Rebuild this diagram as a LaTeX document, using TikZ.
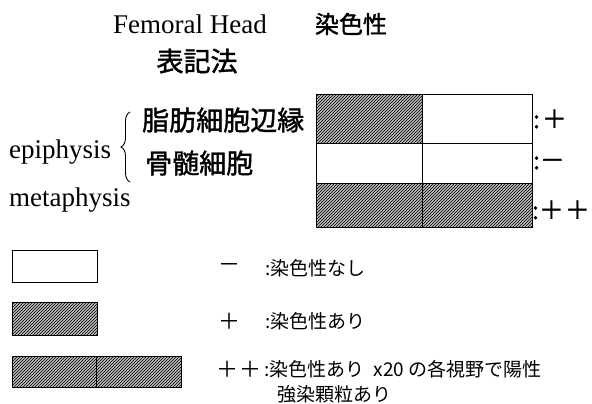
\documentclass[tikz,border=0pt]{standalone}
\usepackage{fontspec}
\usetikzlibrary{patterns,decorations.pathreplacing}
\setmainfont{Liberation Serif}
\newfontfamily\cjk{Noto Sans CJK JP}
\newfontfamily\cjkb[FakeBold=1.5]{Noto Sans CJK JP}
\newcommand\bigsign[1]{{\fontsize{25}{25}\selectfont #1}}
\newcommand\midsign[1]{{\fontsize{22}{22}\selectfont #1}}
\tikzset{
  cell/.style={draw=black,line width=1pt},
  hcell/.style={cell,fill=gray!55,postaction={pattern=north east lines}},
  wcell/.style={cell,fill=white},
  ser/.style={inner sep=0pt,font=\fontsize{27}{30}\selectfont},
  big/.style={inner sep=0pt,font=\cjkb\fontsize{27}{30}\selectfont},
  leg/.style={inner sep=0pt,font=\cjk\fontsize{19}{22}\selectfont},
  sign/.style={inner sep=0pt,font=\cjkb\fontsize{24}{26}\selectfont},
}
\begin{document}
\begin{tikzpicture}[x=1pt,y=-1pt]
\useasboundingbox (0,0) rectangle (592,404);
% headings
\node[ser] (fh) at (190,24) {Femoral Head};
\node[inner sep=0pt,font=\cjkb\fontsize{24}{28}\selectfont] (ss) at (351,24) {染色性};
\node[big] (hk) at (197,61) {表記法};
% left labels
\node[ser,anchor=west] (epi) at (9,152) {epiphysis};
\node[ser,anchor=west] (meta) at (9,200) {metaphysis};
\coordinate (bt) at (130,112);
\coordinate (bb) at (130,182);
\draw[line width=0.9pt,decorate,decoration={brace,amplitude=9pt}] (bb) -- (bt);
\node[big,anchor=west] (fat) at (142,120) {脂肪細胞辺縁};
\node[big,anchor=west] (bm) at (145,163) {骨髄細胞};
% grid
\draw[hcell] (316,95) rectangle (422,143);
\draw[wcell] (422,95) rectangle (532,143);
\draw[wcell] (316,143) rectangle (422,183);
\draw[wcell] (422,143) rectangle (532,183);
\draw[hcell] (316,183) rectangle (422,227);
\draw[hcell] (422,183) rectangle (532,227);
\node[sign,anchor=west] (s1) at (533,119) {:\kern2pt\bigsign{＋}};
\node[sign,anchor=west] (s2) at (533,163) {:\bigsign{－}};
\node[sign,anchor=west] (s3) at (532,210) {:\bigsign{＋}\kern1pt\bigsign{＋}};
% legend
\draw[wcell] (12,250) rectangle (97,282);
\draw[hcell] (12,302) rectangle (97,335);
\draw[hcell] (12,356) rectangle (96,387);
\draw[hcell] (96,356) rectangle (181,387);
\node[leg,anchor=west] (l1s) at (218,268) {\midsign{－}};
\node[leg,anchor=west] (l1) at (265,268) {:染色性なし};
\node[leg,anchor=west] (l2s) at (218,321) {\midsign{＋}};
\node[leg,anchor=west] (l2) at (265,321) {:染色性あり};
\node[leg,anchor=west] (l3s) at (216,369) {\midsign{＋}\kern1pt\midsign{＋}};
\node[leg,anchor=west] (l3) at (264,369) {:染色性あり\hspace{0.5em}x20 の各視野で陽性};
\node[leg,anchor=west] (l4) at (277,394) {強染顆粒あり};
\end{tikzpicture}
\end{document}
